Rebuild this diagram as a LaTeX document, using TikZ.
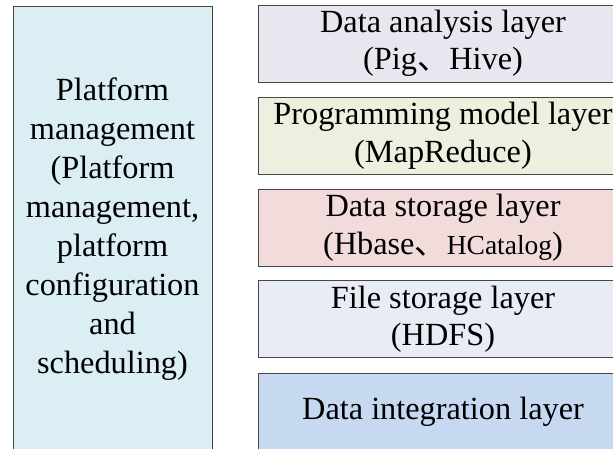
\documentclass[tikz,border=0pt]{standalone}
\usepackage{fontspec}
\setmainfont{Liberation Serif}
\newfontfamily\cjk{Noto Sans CJK SC}
\definecolor{platc}{RGB}{218,238,243}
\definecolor{anac}{RGB}{233,230,240}
\definecolor{progc}{RGB}{235,241,222}
\definecolor{dstc}{RGB}{242,220,219}
\definecolor{filec}{RGB}{232,236,244}
\definecolor{intc}{RGB}{198,217,240}
\definecolor{edgec}{RGB}{70,70,70}
\begin{document}
\begin{tikzpicture}[x=1pt,y=-1pt,
  box/.style={draw=edgec,line width=1pt,inner sep=0pt,align=center,
    font=\fontsize{32.3}{37.5}\selectfont},
  layer/.style={box,minimum width=370pt,minimum height=77pt}]
\useasboundingbox (0,0) rectangle (613,448);
\node[box,fill=platc,minimum width=199pt,minimum height=446pt,
  font=\fontsize{32.3}{38.9}\selectfont] (plat) at (112.5,229)
  {Platform\\management\\(Platform\\management,\\platform\\configuration\\and\\scheduling)};
\node[layer,fill=anac] (ana) at (443,43.5) {Data analysis layer\\(Pig{\cjk 、}Hive)};
\node[layer,fill=progc] (prog) at (443,135.5) {Programming model layer\\(MapReduce)};
\node[layer,fill=dstc] (dst) at (443,227.5) {Data storage layer\\(Hbase{\cjk 、}{\fontsize{27.5}{30}\selectfont HCatalog})};
\node[layer,fill=filec] (file) at (443,319) {File storage layer\\(HDFS)};
\node[layer,fill=intc] (int) at (443,411.5) {Data integration layer};
\end{tikzpicture}
\end{document}
